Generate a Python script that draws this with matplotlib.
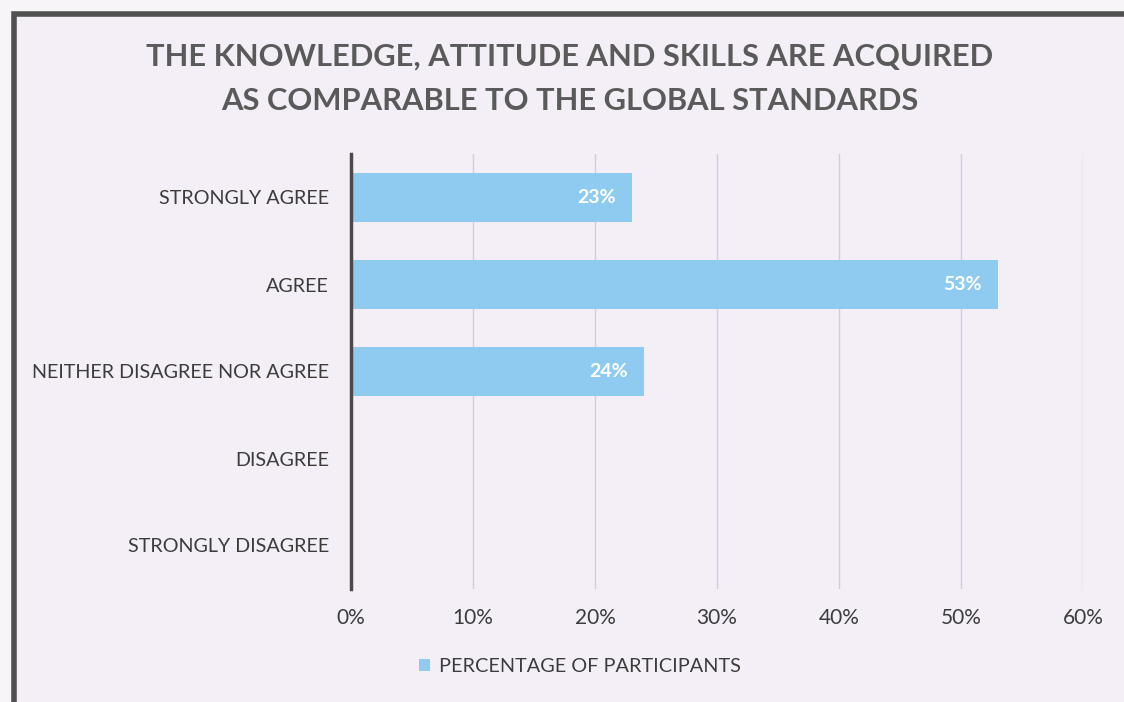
import matplotlib
matplotlib.use("Agg")
import matplotlib.pyplot as plt
from matplotlib.patches import Rectangle
from matplotlib.ticker import FuncFormatter

categories = ["STRONGLY AGREE", "AGREE", "NEITHER DISAGREE NOR AGREE",
              "DISAGREE", "STRONGLY DISAGREE"]
percentages = [23, 53, 24, 0, 0]
x_ticks = [0, 10, 20, 30, 40, 50, 60]
series_name = "PERCENTAGE OF PARTICIPANTS"
title_lines = ["THE KNOWLEDGE, ATTITUDE AND SKILLS ARE ACQUIRED",
               "AS COMPARABLE TO THE GLOBAL STANDARDS"]

plt.rcParams["font.family"] = ["Lato", "DejaVu Sans"]

BG = "#f4eff6"
BAR = "#8fcbf1"
TEXT = "#3c3c3c"
GRID = "#d0cbe4"

fig = plt.figure(figsize=(11.24, 7.02), dpi=100)
fig.patch.set_facecolor("#f7f5f7")

# chart area background and frame, kept behind the axes
frame = Rectangle((14 / 1124, -0.01), 1.2, 1 - 14 / 702 + 0.01,
                  transform=fig.transFigure, facecolor=BG,
                  edgecolor="#505050", linewidth=4, zorder=-1)
fig.patches.append(frame)

ax = fig.add_axes([351 / 1124, 1 - 589 / 702, (1083 - 351) / 1124, (589 - 154) / 702])
ax.set_facecolor("none")

ypos = list(range(len(categories)))
bars = ax.barh(ypos, percentages, height=0.57, color=BAR, zorder=2)
ax.set_ylim(len(categories) - 0.5, -0.5)
ax.set_yticks(ypos)
ax.set_yticklabels(categories, fontsize=14.2, color=TEXT)

ax.set_xlim(0, 60)
ax.set_xticks(x_ticks)
ax.xaxis.set_major_formatter(FuncFormatter(lambda v, p: f"{v:.0f}%"))
ax.tick_params(axis="x", labelsize=15, labelcolor=TEXT, length=0, pad=14)
ax.tick_params(axis="y", length=0, pad=16)

for x in x_ticks[1:]:
    ax.axvline(x, color=GRID, linewidth=1, zorder=1)

for s in ["top", "right", "bottom"]:
    ax.spines[s].set_visible(False)
ax.spines["left"].set_color("#4a4a4a")
ax.spines["left"].set_linewidth(2.5)

for rect, v in zip(bars, percentages):
    if v > 0:
        ax.text(v - 1.3, rect.get_y() + rect.get_height() / 2, f"{v}%",
                ha="right", va="center", color="white", fontsize=14,
                fontweight="bold", zorder=3)

fig.text(0.507, 1 - 57 / 702, title_lines[0], ha="center", va="center",
         fontsize=22.2, fontweight="bold", color="#5a5a5a")
fig.text(0.507, 1 - 101 / 702, title_lines[1], ha="center", va="center",
         fontsize=22.2, fontweight="bold", color="#5a5a5a")

leg = ax.legend([bars[0]], [series_name], loc="center",
                bbox_to_anchor=(580 / 1124, 1 - 667 / 702),
                bbox_transform=fig.transFigure, frameon=False,
                fontsize=14.3, handlelength=0.55, handleheight=0.55,
                handletextpad=0.5, labelcolor=TEXT)

fig.savefig("out.png", dpi=100, facecolor=fig.get_facecolor())
